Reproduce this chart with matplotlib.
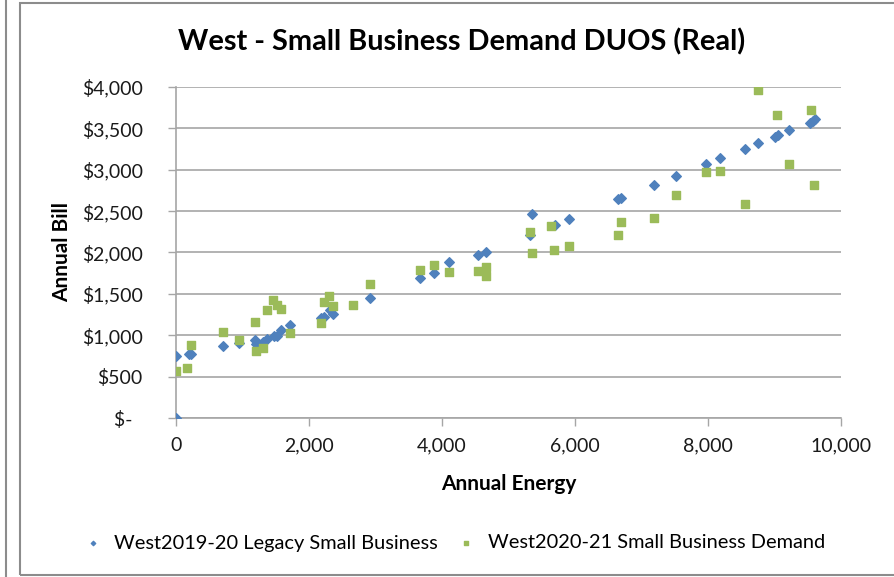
import matplotlib.pyplot as plt
from matplotlib.lines import Line2D
from matplotlib.patches import Rectangle
from matplotlib.ticker import FuncFormatter

# Legacy tariff (2019-20)
legacy_energy = [0, 0, 189, 228, 702, 948, 1188, 1208, 1303, 1369, 1479, 1514, 1579, 1714,
                 2185, 2220, 2315, 2356, 2917, 3669, 3875, 4105, 4542, 4657, 5319, 5354,
                 5694, 5917, 6642, 6691, 7183, 7519, 7970, 8180, 8556, 8752, 9013, 9053,
                 9222, 9534, 9574, 9604]
legacy_bill = [750, 0, 770, 770, 870, 910, 939, 894, 918, 958, 991, 991, 1067, 1120,
               1212, 1220, 1309, 1261, 1446, 1692, 1756, 1889, 1966, 2006, 2211, 2465,
               2332, 2409, 2643, 2659, 2812, 2929, 3074, 3138, 3255, 3319, 3400, 3420,
               3477, 3569, 3593, 3613]

# New tariff (2020-21)
demand_energy = [0, 170, 220, 702, 948, 1188, 1203, 1303, 1369, 1464, 1514, 1579, 1714,
                 2181, 2225, 2306, 2356, 2662, 2917, 3669, 3875, 4105, 4542, 4657, 4657,
                 5319, 5354, 5640, 5689, 5917, 6647, 6691, 7183, 7519, 7970, 8180, 8556,
                 8752, 9043, 9222, 9544, 9594]
demand_bill = [572, 600, 886, 1035, 939, 1160, 806, 846, 1301, 1430, 1366, 1313, 1031,
               1144, 1406, 1474, 1353, 1366, 1616, 1785, 1849, 1760, 1772, 1825, 1720,
               2243, 1994, 2320, 2030, 2082, 2215, 2372, 2413, 2699, 2969, 2985, 2582,
               3964, 3662, 3074, 3718, 2816]

blue = "#4F81BD"
green = "#9BBB59"
grid_col = "#a6a6a6"
plt.rcParams["font.family"] = ["Lato", "DejaVu Sans"]

fig = plt.figure(figsize=(8.94, 5.77), dpi=100)

# outer frames
fig.add_artist(Rectangle((20 / 894, 2 / 577), 900 / 894, 572 / 577, transform=fig.transFigure,
                         fill=False, edgecolor="#8c8c8c", lw=1.5))
fig.add_artist(Line2D([6 / 894, 6 / 894], [0, 1], transform=fig.transFigure,
                      color="#8c8c8c", lw=1.5))

ax = fig.add_axes([176 / 894, 159 / 577, 665 / 894, 331 / 577])
ax.scatter(legacy_energy, legacy_bill, marker="D", s=24, color=blue, zorder=3,
           label="West2019-20 Legacy Small Business")
ax.scatter(demand_energy, demand_bill, marker="s", s=32, color=green, zorder=3,
           label="West2020-21 Small Business Demand")

ax.set_xlim(0, 10000)
ax.set_ylim(0, 4000)
ax.set_xticks(range(0, 10001, 2000))
ax.set_yticks(range(0, 4001, 500))
ax.xaxis.set_major_formatter(FuncFormatter(lambda v, p: f"{v:,.0f}"))
ax.yaxis.set_major_formatter(FuncFormatter(lambda v, p: "$-  " if v == 0 else f"${v:,.0f}"))
ax.grid(axis="y", color=grid_col, lw=1.2)
ax.set_axisbelow(True)
for s in ["top", "right"]:
    ax.spines[s].set_visible(False)
for s in ["left", "bottom"]:
    ax.spines[s].set_color(grid_col)
    ax.spines[s].set_linewidth(1.2)
ax.tick_params(axis="both", colors=grid_col, length=6, width=1, labelsize=14,
               labelcolor="#1a1a1a")
ax.tick_params(axis="y", pad=18)
ax.tick_params(axis="x", pad=8)

ax.set_xlabel("Annual Energy", fontsize=15, fontweight="bold", labelpad=14)
ax.set_ylabel("Annual Bill", fontsize=15, fontweight="bold", labelpad=7)

fig.text(462 / 894, 1 - 42 / 577, "West - Small Business Demand DUOS (Real)",
         ha="center", va="center", fontsize=20.8, fontweight="bold")

fig.legend(loc="center", bbox_to_anchor=(454 / 894, 1 - 543 / 577), ncol=2,
           frameon=False, fontsize=14.4, markerscale=0.45, handlelength=1.0,
           handletextpad=0.6, columnspacing=0.9)

fig.savefig("out.png", dpi=100)
